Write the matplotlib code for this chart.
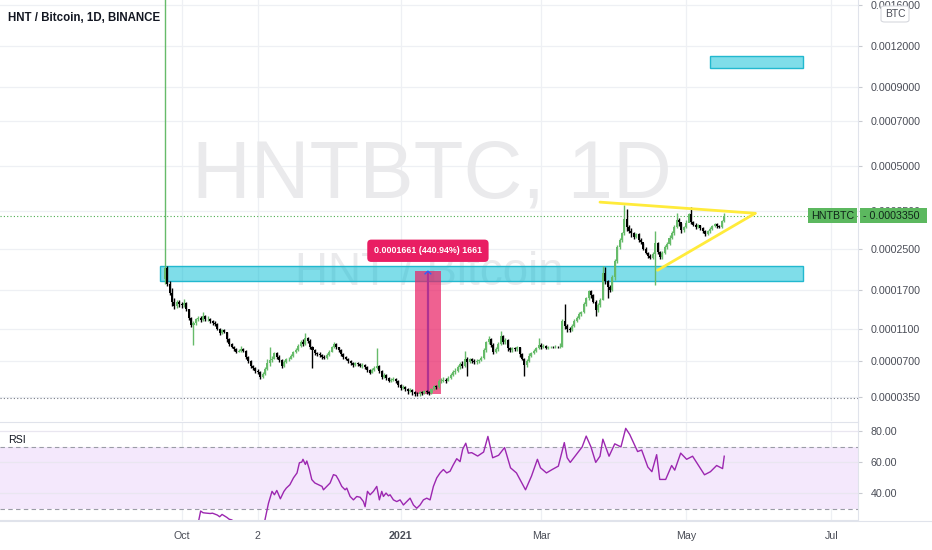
import numpy as np
import pandas as pd
import matplotlib
matplotlib.use("Agg")
import matplotlib.pyplot as plt
import matplotlib.dates as mdates
from matplotlib.patches import Rectangle, FancyBboxPatch
from matplotlib import font_manager

# ---------------- data (prices in units of 1e-5 BTC) ----------------
UNIT = 1e-5
start_date = "2020-09-24"
first_open = 19.0
closes = [
    21.0, 18.0, 16.5, 15.0, 14.3, 15.0, 14.6, 14.4, 14.8, 13.8,
    12.5, 11.5, 11.8, 12.3, 12.5, 12.2, 12.8, 12.3, 12.4, 12.0,
    11.8, 11.6, 11.0, 10.4, 10.8, 10.6, 9.6, 9.0, 8.7, 8.4,
    8.1, 8.2, 8.4, 8.2, 7.5, 7.0, 6.5, 6.3, 6.0, 5.9,
    5.4, 5.7, 6.2, 6.8, 7.1, 7.3, 7.9, 7.5, 7.1, 6.5,
    6.9, 7.2, 7.3, 7.6, 8.0, 8.3, 8.8, 9.3, 9.0, 9.7,
    9.4, 8.6, 8.3, 7.9, 7.8, 7.7, 7.5, 7.4, 7.7, 8.1,
    8.6, 9.0, 8.6, 8.3, 7.8, 7.5, 7.3, 7.0, 6.8, 6.6,
    6.8, 6.7, 6.5, 6.6, 6.4, 6.1, 5.8, 6.1, 6.3, 6.5,
    6.0, 5.4, 5.6, 5.3, 5.0, 5.1, 5.2, 5.0, 4.6, 4.3,
    4.4, 4.2, 4.0, 4.1, 3.9, 3.8, 3.77, 3.9, 3.85, 4.0,
    3.9, 3.85, 4.2, 4.5, 4.4, 5.0, 5.0, 5.1, 5.0, 5.3,
    5.6, 5.9, 6.0, 6.4, 6.7, 6.5, 7.3, 6.9, 7.2, 7.0,
    6.9, 7.0, 7.1, 7.4, 8.3, 9.2, 9.6, 8.9, 8.0, 8.4,
    9.0, 10.0, 9.2, 9.5, 8.5, 8.3, 8.5, 8.4, 8.6, 7.8,
    7.3, 6.6, 7.0, 7.6, 7.9, 8.2, 8.5, 8.9, 8.6, 8.8,
    8.5, 8.6, 8.7, 8.6, 8.7, 8.6, 8.7, 12.0, 11.3, 10.9,
    10.8, 11.4, 12.1, 12.5, 13.0, 13.3, 14.6, 15.5, 16.8, 16.0,
    15.0, 13.6, 14.4, 15.3, 20.0, 18.6, 17.4, 17.0, 19.2, 22.4,
    25.6, 27.2, 28.8, 32.5, 30.5, 29.5, 28.8, 28.0, 28.6, 27.2,
    26.8, 25.2, 24.3, 23.6, 23.2, 24.0, 26.5, 24.5, 23.4, 24.2,
    25.6, 26.3, 27.8, 28.8, 30.5, 32.4, 31.8, 29.6, 30.4, 31.6,
    34.0, 31.8, 31.0, 30.5, 30.9, 30.2, 29.4, 28.6, 29.3, 30.0,
    30.6, 31.2, 30.6, 30.4, 32.0, 33.5,
]
highs = [
    350.0, 21.5, 18.5, 17.2, 15.5, 15.3, 15.2, 15.0, 15.4, 14.9,
    13.9, 12.6, 12.0, 12.5, 12.8, 12.7, 13.3, 12.9, 12.7, 12.5,
    12.2, 12.0, 11.7, 11.1, 11.0, 11.0, 10.6, 9.7, 9.1, 8.8,
    8.5, 8.4, 8.8, 8.5, 8.3, 7.6, 7.1, 6.6, 6.4, 6.2,
    6.0, 5.9, 6.4, 7.2, 8.6, 7.6, 8.1, 8.0, 7.7, 7.2,
    7.1, 7.4, 7.5, 7.8, 8.2, 8.5, 9.0, 9.5, 9.6, 10.4,
    9.9, 9.6, 8.8, 8.4, 8.1, 8.0, 7.8, 7.7, 7.9, 8.3,
    8.8, 9.3, 9.1, 8.7, 8.4, 7.9, 7.6, 7.4, 7.1, 6.9,
    6.9, 6.9, 6.8, 6.8, 6.7, 6.5, 6.2, 6.3, 6.5, 8.5,
    6.6, 6.1, 5.8, 5.7, 5.4, 5.3, 5.4, 5.3, 5.1, 4.7,
    4.6, 4.5, 4.3, 4.3, 4.2, 4.0, 3.95, 4.0, 4.05, 4.1,
    4.1, 4.0, 4.3, 4.6, 4.6, 5.2, 5.3, 5.4, 5.3, 5.5,
    5.8, 6.1, 6.3, 6.6, 6.9, 7.0, 8.2, 7.5, 7.4, 7.4,
    7.2, 7.2, 7.3, 7.6, 8.5, 9.4, 10.0, 9.7, 9.1, 8.7,
    9.2, 10.7, 10.1, 9.8, 9.6, 8.7, 8.7, 8.6, 8.8, 8.6,
    7.9, 7.4, 7.3, 7.9, 8.1, 8.4, 8.7, 9.8, 9.1, 9.0,
    8.9, 8.8, 8.8, 8.8, 8.9, 8.8, 9.1, 12.4, 14.6, 11.6,
    11.2, 11.6, 12.3, 12.8, 13.3, 13.5, 15.0, 15.7, 17.0, 17.0,
    16.2, 15.2, 14.7, 15.6, 21.5, 21.2, 18.8, 17.8, 19.6, 22.8,
    26.0, 27.8, 29.2, 36.5, 35.5, 31.0, 30.2, 29.2, 29.0, 28.8,
    27.6, 26.5, 25.5, 24.5, 24.0, 24.5, 29.5, 26.8, 24.6, 24.6,
    26.0, 26.8, 28.3, 29.5, 31.0, 34.4, 33.0, 31.5, 30.8, 32.2,
    34.4, 35.9, 32.0, 31.4, 31.3, 31.0, 30.4, 29.6, 29.6, 30.4,
    31.0, 31.5, 31.4, 31.0, 32.4, 34.2,
]
lows = [
    18.0, 17.6, 16.0, 14.3, 13.8, 14.0, 14.2, 14.0, 14.2, 13.5,
    12.2, 11.2, 8.9, 11.5, 12.0, 11.9, 12.0, 12.0, 12.1, 11.8,
    11.5, 11.3, 10.8, 10.2, 10.3, 10.4, 9.3, 8.8, 8.5, 8.2,
    7.9, 8.0, 8.1, 8.0, 7.3, 6.8, 6.3, 6.1, 5.8, 5.7,
    5.2, 5.3, 5.6, 6.1, 6.5, 6.9, 7.2, 7.3, 6.9, 6.3,
    6.4, 6.8, 7.0, 7.2, 7.5, 7.9, 8.2, 8.7, 8.8, 8.9,
    9.1, 8.4, 6.3, 7.7, 7.6, 7.5, 7.3, 7.2, 7.3, 7.6,
    8.0, 8.5, 8.4, 8.1, 7.6, 7.3, 7.1, 6.8, 6.6, 6.4,
    6.5, 6.5, 6.4, 6.3, 6.2, 5.9, 5.7, 5.8, 6.0, 6.2,
    5.8, 5.2, 5.3, 5.1, 4.9, 4.9, 5.0, 4.8, 4.4, 4.1,
    4.2, 4.0, 3.8, 3.9, 3.7, 3.6, 3.55, 3.6, 3.7, 3.75,
    3.8, 3.7, 3.8, 4.1, 4.2, 4.3, 4.8, 4.9, 4.8, 5.0,
    5.2, 5.5, 5.7, 5.9, 6.2, 6.3, 6.4, 5.5, 6.8, 6.8,
    6.7, 6.7, 6.8, 7.0, 7.3, 8.1, 9.0, 8.7, 7.8, 7.9,
    8.2, 8.9, 9.0, 9.0, 8.2, 8.1, 8.1, 8.2, 8.2, 7.5,
    7.1, 5.5, 6.4, 6.9, 7.5, 7.8, 8.0, 8.4, 8.4, 8.5,
    8.4, 8.4, 8.5, 8.5, 8.5, 8.5, 8.5, 8.6, 11.0, 10.6,
    10.5, 10.7, 11.2, 11.9, 12.3, 12.8, 13.2, 14.3, 15.2, 15.6,
    14.7, 12.8, 13.4, 14.2, 15.2, 18.0, 15.6, 16.6, 16.8, 18.8,
    22.0, 25.0, 26.8, 28.3, 29.5, 28.8, 28.0, 27.5, 27.8, 26.8,
    26.3, 24.8, 23.9, 23.2, 22.8, 22.9, 17.8, 24.0, 23.0, 23.0,
    24.0, 25.2, 26.0, 27.5, 28.5, 30.3, 30.8, 29.0, 29.2, 30.3,
    31.8, 31.3, 30.6, 30.0, 30.2, 29.8, 29.0, 28.2, 28.5, 29.0,
    29.8, 30.4, 30.3, 30.1, 30.3, 31.8,
]
# RSI: day offset from start_date, value
rsi_days = [14, 15, 16, 17, 19, 20, 22, 23, 24, 26, 27, 28, 30, 33, 36, 39, 41, 42,
            43.5, 45, 46, 47, 48.5, 50, 51, 52.5, 54, 55.5, 56.5, 57.5, 58, 59, 59.6,
            60.7, 61.7, 63, 64.5, 66, 66.6, 68, 69.4, 70.8, 71.9, 72.9, 74.3, 75.7,
            76.4, 77.8, 79.2, 80.6, 82, 83.4, 84.1, 85.1, 86.2, 87.6, 89, 90.1, 91.1,
            91.8, 92.9, 93.9, 94.6, 96, 97.4, 98.8, 100.2, 101.6, 103, 104.4, 105.8,
            107.2, 108.6, 110, 111.4, 112.8, 114.2, 115.6, 117, 118.4, 119.8, 121,
            122.6, 124, 125.1, 126.4, 127.5, 128.9, 131.4, 133.9, 135.7, 137.7, 140.2,
            142.7, 145.2, 147.7, 151.5, 154, 156.5, 157.8, 160.3, 162.7, 165.3, 167.8,
            169, 170.3, 172.8, 175.3, 177, 179, 181, 182.8, 184, 186.6, 189, 191.6,
            193.6, 195.3, 197.1, 198.6, 200.3, 202.9, 204.6, 206.6, 207.9, 210.4,
            212.9, 214.2, 216.7, 219.2, 221.7, 224.2, 226.7, 229.2, 231.8, 234.3, 235]
rsi_values = [21.0, 28.6, 27.5, 27.3, 27.0, 27.2, 26.0, 24.9, 26.4, 24.5, 23.3, 22.9,
              21.0, 19.0, 17.5, 16.0, 18.0, 22.7, 33.6, 41.3, 39.1, 41.9, 36.5, 41.3,
              43.4, 45.6, 50.0, 53.2, 59.8, 60.2, 62.0, 58.7, 60.9, 55.4, 48.9, 46.7,
              45.6, 44.5, 42.3, 44.5, 46.7, 52.1, 51.5, 48.9, 44.5, 42.3, 43.4, 38.0,
              35.8, 38.0, 37.5, 34.7, 31.4, 41.3, 39.1, 41.3, 44.5, 35.8, 41.3, 38.0,
              40.2, 38.4, 39.1, 35.8, 34.7, 35.8, 32.5, 34.7, 36.9, 32.5, 30.4, 32.5,
              35.8, 36.9, 35.8, 44.5, 50.0, 53.2, 55.4, 53.2, 54.3, 58.0, 62.4, 60.5,
              68.5, 72.4, 66.0, 66.3, 64.1, 66.7, 76.8, 63.0, 64.6, 69.6, 56.5, 53.2,
              42.3, 51.1, 62.0, 56.5, 53.2, 55.4, 57.6, 72.8, 63.0, 60.0, 65.0, 70.0,
              77.0, 70.0, 60.0, 64.0, 75.0, 64.0, 72.0, 70.0, 82.0, 78.0, 72.0, 67.0,
              68.0, 57.0, 54.0, 65.0, 49.0, 49.0, 58.0, 55.0, 66.0, 62.0, 64.0, 58.0,
              52.0, 54.0, 58.0, 56.0, 64.0]

price_ticks = [0.0016, 0.0012, 0.0009, 0.0007, 0.0005, 0.00035,
               0.00025, 0.00017, 0.00011, 0.00007, 0.000035]
rsi_ticks = [80, 60, 40]
date_ticks = ["2020-10-01", "2020-11-02", "2021-01-01", "2021-03-01", "2021-05-01", "2021-07-01"]
date_labels = ["Oct", "2", "2021", "Mar", "May", "Jul"]
last_price = 0.0003350
low_line_price = 0.0000345
support_zone = ("2020-09-22", "2021-06-19", 18.6, 21.5)
target_zone = ("2021-05-11", "2021-06-19", 102.8, 111.8)
measure = ("2021-01-07", "2021-01-18", 3.767, 20.427)
measure_label = "0.0001661 (440.94%) 1661"
tri_top = (["2021-03-25 19:00", "2021-05-30 00:00"], [37.5, 34.2])
tri_bottom = (["2021-04-19 00:00", "2021-05-30 00:00"], [20.6, 34.2])

assert len(closes) == len(highs) == len(lows)
assert len(rsi_days) == len(rsi_values)

# ---------------- figure ----------------
W, H = 932, 550
fig = plt.figure(figsize=(W / 100, H / 100), dpi=100)
fig.patch.set_facecolor("white")
names = {f.name for f in font_manager.fontManager.ttflist}
base_font = "Liberation Sans" if "Liberation Sans" in names else "DejaVu Sans"
plt.rcParams["font.family"] = [base_font, "DejaVu Sans"]

def fx(px):
    return px / W

def fy(py):
    return 1 - py / H

ax = fig.add_axes([0, fy(421), fx(858), 421 / H])
ax2 = fig.add_axes([0, fy(520), fx(858), (520 - 422) / H])

def fwd(p):
    return np.log10(np.clip(p, -9.9e-5, None) + 1e-4)

def inv(y):
    return 10 ** y - 1e-4

ax.set_yscale("function", functions=(fwd, inv))

base = pd.Timestamp(start_date)
base_num = mdates.date2num(base)
x = mdates.date2num(pd.date_range(start_date, periods=len(closes), freq="D"))
c = np.array(closes) * UNIT
h = np.array(highs) * UNIT
l = np.array(lows) * UNIT
o = np.concatenate([[first_open * UNIT], c[:-1]])
up = c >= o
GREEN = "#66bb6a"
col = np.where(up, GREEN, "#000000")

ax.vlines(x, l, h, colors=col, linewidth=1.0, zorder=3)
ax.bar(x, np.abs(c - o), bottom=np.minimum(o, c), width=0.85, color=col,
       linewidth=0, zorder=3.1)

xmin, xmax = base_num - 69.3, base_num + 291.2
for a in (ax, ax2):
    a.set_xlim(xmin, xmax)
    for d in date_ticks:
        a.axvline(mdates.date2num(pd.Timestamp(d)), color="#eef0f4", lw=0.9, zorder=0)
    for s in ("top", "left", "bottom"):
        a.spines[s].set_visible(False)
    a.spines["right"].set_color("#e0e3eb")
    a.set_facecolor("white")

ax.set_ylim(1.56e-5, 1.652e-3)
for p in price_ticks:
    ax.axhline(p, color="#eef0f4", lw=0.9, zorder=0)
ax.yaxis.tick_right()
ax.set_yticks(price_ticks)
ax.set_yticklabels([f"{p:.7f}" for p in price_ticks])
ax.yaxis.set_minor_locator(matplotlib.ticker.NullLocator())
ax.tick_params(axis="y", which="major", length=3, pad=6, colors="#c8cad0",
               labelcolor="#4a4d57", labelsize=7.7)
ax.set_xticks([])

# watermark (font size fitted to the reference width)
renderer = fig.canvas.get_renderer()
def watermark(xa, ya, s, target_w, size0):
    t = ax.text(xa, ya, s, transform=ax.transAxes, ha="center", va="baseline",
                fontsize=size0, color="#eaeaec", zorder=0.5)
    w = t.get_window_extent(renderer).width
    t.set_fontsize(size0 * target_w / w)
    return t

watermark(432 / 858, 1 - 198 / 421, "HNTBTC, 1D", 480, 60)
watermark(429 / 858, 1 - 285 / 421, "HNT / Bitcoin", 268, 30)

# zones
def add_zone(zone, **kw):
    x0 = mdates.date2num(pd.Timestamp(zone[0]))
    x1 = mdates.date2num(pd.Timestamp(zone[1]))
    ax.add_patch(Rectangle((x0, zone[2] * UNIT), x1 - x0, (zone[3] - zone[2]) * UNIT, **kw))

cyan_fc = (0 / 255, 188 / 255, 212 / 255, 0.5)
add_zone(support_zone, facecolor=cyan_fc, edgecolor="#22b8cf", lw=1.0, zorder=1)
add_zone(target_zone, facecolor=cyan_fc, edgecolor="#22b8cf", lw=1.0, zorder=1)

# measure box
mx0 = mdates.date2num(pd.Timestamp(measure[0]))
mx1 = mdates.date2num(pd.Timestamp(measure[1]))
mxc = (mx0 + mx1) / 2
ax.vlines(mxc, measure[2] * UNIT, measure[3] * UNIT, color="#2962ff", lw=1.6, zorder=1.5)
ax.add_patch(Rectangle((mx0, measure[2] * UNIT), mx1 - mx0, (measure[3] - measure[2]) * UNIT,
                       facecolor=(233 / 255, 30 / 255, 99 / 255, 0.7), edgecolor="none", zorder=2))
ax.plot([mxc - 1.2, mxc, mxc + 1.2], [19.9 * UNIT, measure[3] * UNIT, 19.9 * UNIT],
        color="#2962ff", lw=1.0, zorder=2.5)
ax.text(mxc, 24.7 * UNIT, measure_label, ha="center", va="center", fontsize=6.4,
        color="white", zorder=6, weight="bold",
        bbox=dict(boxstyle="round,pad=0.75,rounding_size=0.45", fc="#e91e63", ec="none"))

# triangle
for xs, ys in (tri_top, tri_bottom):
    ax.plot(mdates.date2num(pd.to_datetime(xs, format="%Y-%m-%d %H:%M")), np.array(ys) * UNIT,
            color="#ffeb3b", lw=2.0, solid_capstyle="round", zorder=5)

# horizontal lines
ax.axhline(last_price, color="#4caf50", lw=0.8, ls=(0, (1, 2)), zorder=2)
ax.axhline(low_line_price, color="#787b86", lw=0.8, ls=(0, (1, 2)), zorder=2)

# title
fig.text(fx(8), fy(18), "HNT / Bitcoin, 1D, BINANCE", ha="left", va="center",
         fontsize=8.3, color="#131722", weight="bold")

# price labels (position from the data scale)
yp = ax.transData.transform((xmin, last_price))[1] / (H)
hh = 15 / H
fig.patches.append(Rectangle((fx(808), yp - hh / 2), fx(49), hh, transform=fig.transFigure,
                             facecolor="#5cb85f", edgecolor="none", zorder=4))
fig.patches.append(Rectangle((fx(860), yp - hh / 2), fx(67), hh, transform=fig.transFigure,
                             facecolor="#5cb85f", edgecolor="none", zorder=4))
fig.text(fx(832.5), yp, "HNTBTC", ha="center", va="center", fontsize=7.7, color="#10261a", zorder=5)
fig.text(fx(863), yp, "- 0.0003350", ha="left", va="center", fontsize=7.7, color="#10261a", zorder=5)

# BTC box
fig.patches.append(FancyBboxPatch((fx(881), fy(22)), fx(28), 16 / H, transform=fig.transFigure,
                                  boxstyle="round,pad=0,rounding_size=0.004",
                                  facecolor="white", edgecolor="#d6d8de", lw=0.8, zorder=4))
fig.text(fx(895), fy(14), "BTC", ha="center", va="center", fontsize=7.4, color="#4a4d57", zorder=5)

# ---------------- RSI pane ----------------
ax2.set_ylim(22.8, 86.1)
ax2.axhspan(30, 70, color="#f4e8fc", zorder=0.2, lw=0)
for v in rsi_ticks:
    ax2.axhline(v, color="#e9e6f0", lw=0.9, zorder=0.3)
for v in (70, 30):
    ax2.axhline(v, color="#9a9ca6", lw=0.8, ls=(0, (4, 3)), zorder=0.4)
ax2.plot(base_num + np.array(rsi_days), rsi_values, color="#9c27b0", lw=1.0, zorder=3)
ax2.spines["top"].set_visible(True)
ax2.spines["top"].set_color("#e0e3eb")
ax2.spines["bottom"].set_visible(True)
ax2.spines["bottom"].set_color("#e0e3eb")
ax2.yaxis.tick_right()
ax2.set_yticks(rsi_ticks)
ax2.set_yticklabels([f"{v:.2f}" for v in rsi_ticks])
ax2.tick_params(axis="y", length=3, pad=6, colors="#c8cad0", labelcolor="#4a4d57", labelsize=7.7)
ax2.set_xticks([mdates.date2num(pd.Timestamp(d)) for d in date_ticks])
ax2.set_xticklabels(date_labels)
ax2.tick_params(axis="x", length=0, pad=8, labelcolor="#4a4d57", labelsize=7.7)
for t in ax2.get_xticklabels():
    if t.get_text() == "2021":
        t.set_fontweight("bold")
fig.text(fx(8), fy(440), "RSI", ha="left", va="center", fontsize=7.7, color="#131722")

fig.add_artist(plt.Line2D([0, 1], [fy(520.5), fy(520.5)], transform=fig.transFigure,
                          color="#e0e3eb", lw=0.8))

fig.savefig("out.png", dpi=100, facecolor="white")
